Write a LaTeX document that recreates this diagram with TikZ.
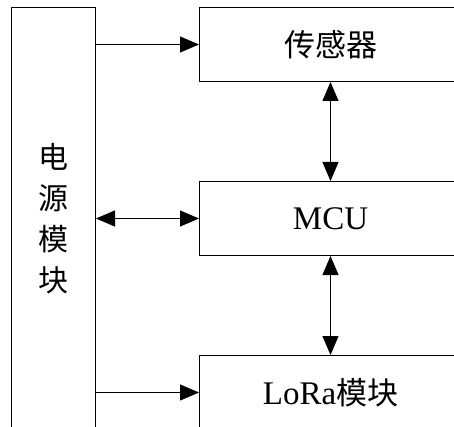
\documentclass[tikz,border=0pt]{standalone}
\usepackage{fontspec}
\setmainfont{Liberation Serif}
\newfontfamily\cjk{Noto Sans CJK SC}
\usetikzlibrary{arrows.meta}
\begin{document}
\begin{tikzpicture}[x=1pt,y=-1pt,
  box/.style={draw=black,line width=1pt,rectangle,inner sep=0pt,anchor=north west},
  rbox/.style={box,minimum width=262pt,minimum height=74pt,font=\fontsize{33}{36}\selectfont},
  conn/.style={line width=1pt,-{Triangle[length=19pt,width=16pt]}},
  biconn/.style={line width=1pt,{Triangle[length=19pt,width=16pt]}-{Triangle[length=19pt,width=16pt]}}]
\useasboundingbox (0,0) rectangle (454,427);
\clip (0,0) rectangle (454,427);
\node[box,minimum width=84pt,minimum height=422pt,align=center,
  font=\fontsize{30}{41}\selectfont\cjk] (power) at (11,7) {电\\源\\模\\块};
\node[rbox] (sensor) at (199,7) {\fontsize{31}{36}\selectfont\cjk 传感器};
\node[rbox] (mcu) at (199,181) {MCU};
\node[rbox] (lora) at (199,355) {LoRa{\fontsize{31}{36}\selectfont\cjk 模块}};
\draw[conn] (sensor.west -| power.east) -- (sensor.west);
\draw[biconn] (mcu.west -| power.east) -- (mcu.west);
\draw[conn] (lora.west -| power.east) -- (lora.west);
\draw[biconn] (sensor.south) -- (mcu.north);
\draw[biconn] (mcu.south) -- (lora.north);
\end{tikzpicture}
\end{document}
